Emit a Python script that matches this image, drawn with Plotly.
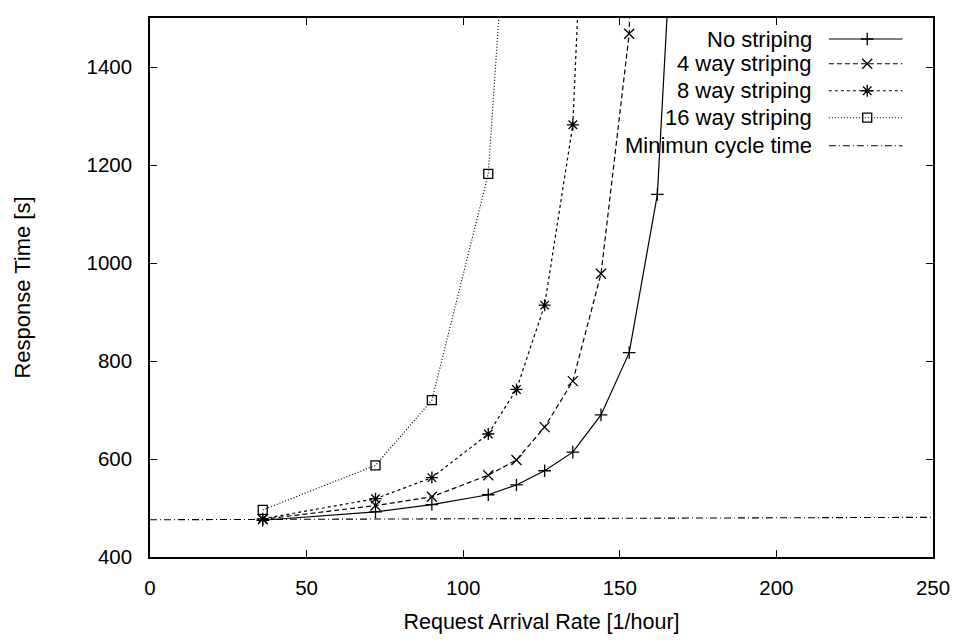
import plotly.graph_objects as go

# ---- data ----
rate = [36, 72, 90, 108, 117, 126, 135, 144, 153, 162, 171]
no_striping = [475, 492, 507, 527, 547, 576, 614, 690, 817, 1140, 2200]
four_way = [477, 505, 523, 567, 598, 665, 759, 978, 1468, 4400]
eight_way = [478, 519, 562, 651, 742, 914, 1282, 2600]
sixteen_way = [496, 587, 720, 1182, 2030]
min_cycle_x = [0, 250]
min_cycle_y = [476, 481]

names = ["No striping", "4 way striping", "8 way striping", "16 way striping", "Minimun cycle time"]
dashes = ["solid", "5px,3px", "3px,3px", "1px,2px", "7px,3px,1px,3px"]
symbols = ["cross-thin-open", "x-thin-open", "asterisk-open", "square-open", None]
sizes = [9, 10, 10, 9, 0]

FONT = "Liberation Sans, Arial, sans-serif"

fig = go.Figure()
series = [no_striping, four_way, eight_way, sixteen_way]
for i, ys in enumerate(series):
    fig.add_trace(go.Scatter(
        x=rate[:len(ys)], y=ys, mode="lines+markers", name=names[i],
        line=dict(color="black", width=1.2, dash=dashes[i]),
        marker=dict(symbol=symbols[i], size=sizes[i], color="black",
                    line=dict(color="black", width=1.3)),
        showlegend=False))
fig.add_trace(go.Scatter(
    x=min_cycle_x, y=min_cycle_y, mode="lines", name=names[4],
    line=dict(color="black", width=1.1, dash=dashes[4]), showlegend=False))

# ---- gnuplot-style key (text right-aligned, sample to the right) ----
key_text_x = 0.848
key_line = [0.867, 0.961]
key_mark = 0.916
key_rows = [0.961, 0.915, 0.865, 0.815, 0.763]
for i, nm in enumerate(names):
    fig.add_annotation(x=key_text_x, y=key_rows[i], xref="x2", yref="y2",
                       text=nm, showarrow=False, xanchor="right", yanchor="middle",
                       font=dict(family=FONT, size=22, color="black"))
    fig.add_trace(go.Scatter(
        x=key_line, y=[key_rows[i]] * 2, xaxis="x2", yaxis="y2", mode="lines",
        line=dict(color="black", width=1.1, dash=dashes[i]), showlegend=False,
        hoverinfo="skip"))
    if symbols[i]:
        fig.add_trace(go.Scatter(
            x=[key_mark], y=[key_rows[i]], xaxis="x2", yaxis="y2", mode="markers",
            marker=dict(symbol=symbols[i], size=sizes[i], color="black",
                        line=dict(color="black", width=1.3)),
            showlegend=False, hoverinfo="skip"))

axis_common = dict(showline=True, linecolor="black", linewidth=1.5, mirror="ticks",
                   ticks="inside", ticklen=7, tickwidth=1.3, tickcolor="black",
                   showgrid=False, zeroline=False,
                   tickfont=dict(family=FONT, size=20.5, color="black"))

fig.update_layout(
    width=962, height=642,
    margin=dict(l=150, r=24, t=18, b=84),
    paper_bgcolor="white", plot_bgcolor="white",
    font=dict(family=FONT, size=22, color="black"),
    xaxis=dict(range=[0, 250], tickvals=[0, 50, 100, 150, 200, 250],
               ticklabelstandoff=12,
               title=dict(text="Request Arrival Rate [1/hour]", standoff=16,
                          font=dict(family=FONT, size=21.5)),
               **axis_common),
    yaxis=dict(range=[400, 1500], tickvals=[400, 600, 800, 1000, 1200, 1400],
               ticklabelstandoff=12,
               title=dict(text="Response Time [s]", standoff=50,
                          font=dict(family=FONT, size=22)),
               **axis_common),
    xaxis2=dict(range=[0, 1], overlaying="x", visible=False),
    yaxis2=dict(range=[0, 1], overlaying="y", visible=False),
)

fig.write_html("out.html")
